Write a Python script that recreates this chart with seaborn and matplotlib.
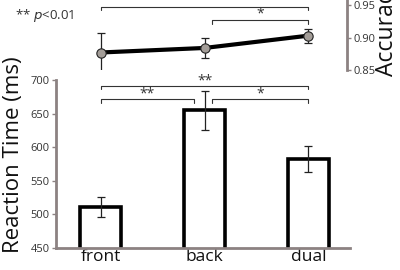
import matplotlib
matplotlib.use("Agg")
import matplotlib.pyplot as plt
import seaborn as sns
import pandas as pd
import numpy as np

conditions = ["front", "back", "dual"]
rt_mean = [511, 655, 583]
rt_err = [14.5, 29, 19.5]
acc_mean = [0.877, 0.884, 0.903]
acc_err = [0.030, 0.015, 0.011]
rt_ticks = [450, 500, 550, 600, 650, 700]
acc_ticks = [0.85, 0.90, 0.95]

sns.set_theme(style="white")
plt.rcParams['font.family'] = ['Open Sans', 'DejaVu Sans']

spine_col = "#8c8282"
tick_col = "#333333"

fig = plt.figure(figsize=(4, 2.7), dpi=100)
L, R = 56/400, 350/400
ax = fig.add_axes([L, 1-248/270, R-L, (248-80)/270])
df = pd.DataFrame({"cond": conditions, "rt": rt_mean})
sns.barplot(data=df, x="cond", y="rt", ax=ax, color="white", edgecolor="black",
            linewidth=2.6, width=0.4, errorbar=None)
ax.errorbar(np.arange(3), rt_mean, yerr=rt_err, fmt="none", ecolor="#222222",
            elinewidth=0.9, capsize=3, capthick=0.9)
xl = (-0.43, 2.40)
ax.set_xlim(*xl)
ax.set_ylim(450, 700)
ax.set_yticks(rt_ticks)
ax.set_xlabel("")
ax.set_ylabel("Reaction Time (ms)", fontsize=16, color="#111111")
ax.yaxis.set_label_coords(-0.11, 0.553)
for s in ["top", "right"]:
    ax.spines[s].set_visible(False)
for s in ["left", "bottom"]:
    ax.spines[s].set_color(spine_col)
    ax.spines[s].set_linewidth(2)
ax.tick_params(axis="y", labelsize=8, labelcolor=tick_col, color=spine_col,
               left=True, length=3, width=1, pad=1.5)
ax.tick_params(axis="x", labelsize=12.5, colors="#111111", length=0, pad=0.5)

def bracket(a, x1, x2, y, drop, label, off):
    a.plot([x1, x1, x2, x2], [y-drop, y, y, y-drop], color="#333333", lw=0.8,
           clip_on=False)
    a.text((x1+x2)/2, y+off, label, ha="center", va="center", fontsize=10,
           color="#333333", clip_on=False)

bracket(ax, 0, 2, 691.5, 5.5, "**", 7)
bracket(ax, 0, 0.9, 672, 5.5, "**", 7)
bracket(ax, 1.07, 2, 672, 5.5, "*", 7)

# accuracy panel
px_per_unit = (350-56)/(xl[1]-xl[0])
R2 = 347/400
ax2 = fig.add_axes([L, 1-70/270, R2-L, 70/270])
adf = pd.DataFrame({"x": np.arange(3), "acc": acc_mean})
ax2.errorbar(np.arange(3), acc_mean, yerr=acc_err, fmt="none", ecolor="#222222",
             elinewidth=0.9, capsize=3, capthick=0.9, zorder=1)
sns.lineplot(data=adf, x="x", y="acc", ax=ax2, color="black", lw=3, zorder=2)
ax2.scatter(np.arange(3), acc_mean, s=45, facecolor="#a39d98",
            edgecolor="#222222", linewidth=0.8, zorder=3)
ax2.set_xlim(xl[0], xl[0] + (347-56)/px_per_unit)
ax2.set_ylim(0.85, 0.958)
ax2.set_yticks(acc_ticks)
ax2.set_yticklabels([f"{v:.2f}" for v in acc_ticks])
ax2.yaxis.tick_right()
ax2.set_xticks([])
ax2.set_xlabel("")
ax2.set_ylabel("")
ax2.patch.set_alpha(0)
for s in ["top", "left", "bottom"]:
    ax2.spines[s].set_visible(False)
ax2.spines["right"].set_color(spine_col)
ax2.spines["right"].set_linewidth(2)
ax2.spines["right"].set_bounds(0.85, 0.99)
ax2.tick_params(axis="y", labelsize=8, labelcolor=tick_col, color=spine_col,
                length=3, width=1, pad=1.5, right=True)

bracket(ax2, 0, 2, 0.9475, 0.0045, "*", 0.010)
bracket(ax2, 1.07, 2, 0.927, 0.006, "*", 0.010)

fig.text(387/400, 1-76/270, "Accuracy", rotation=90, ha="center", va="bottom",
         fontsize=16.5, color="#111111")
fig.text(15/400, 1-15/270, "** $\\it{p}$<0.01", fontsize=9.5, color="#333333",
         ha="left", va="center")

fig.savefig("out.png", dpi=100)
